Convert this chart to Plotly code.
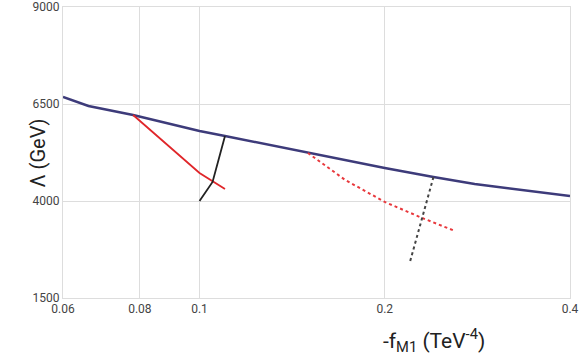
import plotly.graph_objects as go

# limit curve
blue_x = [0.06, 0.066, 0.078, 0.1, 0.11, 0.15, 0.2, 0.24, 0.28, 0.4]
blue_y = [6680, 6450, 6217, 5804, 5676, 5238, 4851, 4619, 4439, 4129]

red_x = [0.078, 0.1, 0.11]
red_y = [6217, 4722, 4310]

black_x = [0.1, 0.105, 0.11]
black_y = [4000, 4490, 5676]

red_dot_x = [0.15, 0.1725, 0.2, 0.23, 0.26]
red_dot_y = [5238, 4542, 3975, 3563, 3228]

black_dot_x = [0.22, 0.23, 0.24]
black_dot_y = [2454, 3563, 4619]

fig = go.Figure()
fig.add_trace(go.Scatter(x=blue_x, y=blue_y, mode="lines",
                         line=dict(color="#3d3b7a", width=2.5)))
fig.add_trace(go.Scatter(x=red_x, y=red_y, mode="lines",
                         line=dict(color="#e0262a", width=1.8)))
fig.add_trace(go.Scatter(x=black_x, y=black_y, mode="lines",
                         line=dict(color="#222222", width=1.8)))
fig.add_trace(go.Scatter(x=red_dot_x, y=red_dot_y, mode="lines",
                         line=dict(color="#e8383c", width=2, dash="dot")))
fig.add_trace(go.Scatter(x=black_dot_x, y=black_dot_y, mode="lines",
                         line=dict(color="#444444", width=2, dash="dot")))

grid = "#dddddd"
fig.update_layout(
    width=582, height=355,
    margin=dict(l=63, r=12, t=7, b=57),
    paper_bgcolor="white", plot_bgcolor="white",
    showlegend=False,
    font=dict(family="Roboto", color="#444444", size=12),
    xaxis=dict(type="log", range=[-1.2218487, -0.39794],
               tickvals=[0.06, 0.08, 0.1, 0.2, 0.4],
               ticktext=["0.06", "0.08", "0.1", "0.2", "0.4"],
               showgrid=True, gridcolor=grid, gridwidth=1,
               showline=True, linecolor=grid, mirror=True,
               zeroline=False, ticks="", automargin=False),
    yaxis=dict(range=[1500, 9000], tickvals=[1500, 4000, 6500, 9000],
               showgrid=True, gridcolor=grid, gridwidth=1,
               showline=True, linecolor=grid, mirror=True,
               zeroline=False, ticks="", automargin=False),
    annotations=[
        dict(text="Λ (GeV)", xref="paper", yref="paper", x=-0.077, y=0.5,
             textangle=-90, showarrow=False,
             font=dict(size=20, color="#222222")),
        dict(text="-f<sub>M1</sub> (TeV<sup>-4</sup>)", xref="paper",
             yref="paper", x=0.627, xanchor="left", y=-0.145,
             yanchor="middle", showarrow=False,
             font=dict(size=21, color="#222222")),
    ],
)

# drop the browser's default page margin so the figure sits at (0, 0)
fig.write_html("out.html", config={"displayModeBar": False},
               post_script="document.body.style.margin='0px';")
